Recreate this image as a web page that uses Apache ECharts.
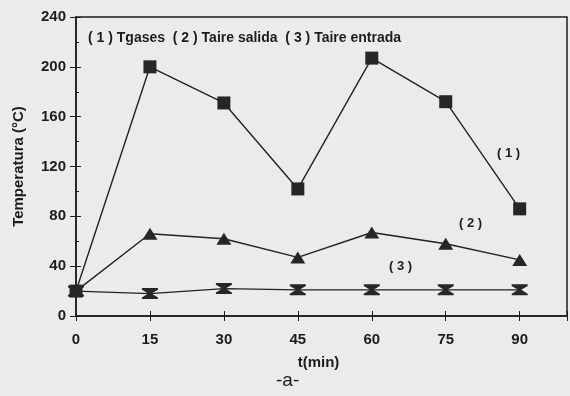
<!DOCTYPE html>
<html><head><meta charset="utf-8">
<script src="https://cdn.jsdelivr.net/npm/echarts@6/dist/echarts.min.js"></script>
<style>html,body{margin:0;padding:0;background:#ebebe9;}#c{width:570px;height:396px;}</style>
</head><body><div id="c"></div>
<script>
var times = [0, 15, 30, 45, 60, 75, 90];
var tGases = [20, 200, 171, 102, 207, 172, 86];
var tAireSalida = [20, 66, 62, 47, 67, 58, 45];
var tAireEntrada = [20, 18, 22, 21, 21, 21, 21];
var seriesNames = ['Tgases', 'Taire salida', 'Taire entrada'];
var yTicks = [0, 40, 80, 120, 160, 200, 240];
var xTitle = 't(min)';
var yTitle = 'Temperatura (°C)';
var caption = '-a-';

function pairs(v){ return times.map(function(t,i){return [t, v[i]];}); }
var ink = '#1c1c1c';
var font = 'Liberation Sans';
var hourglass = 'path://M0,0 L10,0 L10,1.5 L6,5 L10,8.5 L10,10 L0,10 L0,8.5 L4,5 L0,1.5 Z';
var xBase = {type: 'value', min: 0, max: 99.6, interval: 15, splitLine: {show: false}};
var yBase = {type: 'value', min: yTicks[0], max: yTicks[yTicks.length-1], interval: 40, splitLine: {show: false}};

var chart = echarts.init(document.getElementById('c'), null, {renderer:'canvas'});
var legendText = seriesNames.map(function(n,i){return '( '+(i+1)+' ) '+n;}).join('  ');
chart.setOption({
  backgroundColor: '#ebebe9',
  animation: false,
  grid: {left: 76, right: 3, top: 17, bottom: 80, show: true, borderColor: ink, borderWidth: 1.5},
  xAxis: [Object.assign({}, xBase, {
    name: xTitle, nameLocation: 'middle', nameGap: 39,
    nameTextStyle: {color: ink, fontFamily: font, fontWeight: 'bold', fontSize: 15, padding:[0,6,0,0]},
    axisLine: {lineStyle: {color: ink, width: 1.5}},
    axisTick: {show: true, inside: false, length: 5, lineStyle: {color: ink}},
    axisLabel: {color: ink, fontFamily: font, fontWeight: 'bold', fontSize: 15, margin: 16,
      formatter: function(v){ return times.indexOf(v) >= 0 ? String(v) : ''; }}
  }), Object.assign({}, xBase, {
    position: 'bottom',
    axisLine: {show: false},
    axisTick: {show: true, inside: true, length: 5, lineStyle: {color: ink}},
    axisLabel: {show: false}
  })],
  yAxis: [Object.assign({}, yBase, {
    name: yTitle, nameLocation: 'middle', nameGap: 50, nameRotate: 90,
    nameTextStyle: {color: ink, fontFamily: font, fontWeight: 'bold', fontSize: 15},
    axisLine: {show: true, lineStyle: {color: ink, width: 1.5}},
    axisTick: {show: true, inside: false, length: 6, lineStyle: {color: ink}},
    axisLabel: {color: ink, fontFamily: font, fontWeight: 'bold', fontSize: 15, margin: 10}
  }), Object.assign({}, yBase, {
    position: 'left',
    axisLine: {show: false},
    axisTick: {show: true, inside: true, length: 5, lineStyle: {color: ink}},
    minorTick: {show: true, splitNumber: 2, length: 3, lineStyle: {color: ink}},
    axisLabel: {show: false}
  })],
  series: [
    {name: seriesNames[0], type: 'line', data: pairs(tGases), symbol: 'rect', symbolSize: 13,
      itemStyle: {color: '#262626'}, lineStyle: {color: '#222', width: 1.4}, z: 3},
    {name: seriesNames[1], type: 'line', data: pairs(tAireSalida), symbol: 'triangle', symbolSize: [15, 12],
      itemStyle: {color: '#262626'}, lineStyle: {color: '#222', width: 1.4}, z: 2},
    {name: seriesNames[2], type: 'line', data: pairs(tAireEntrada), symbol: hourglass, symbolSize: [16, 11],
      itemStyle: {color: '#262626'}, lineStyle: {color: '#222', width: 1.4}, z: 1}
  ],
  graphic: [
    {type: 'text', left: 88, top: 31, style: {text: legendText, fill: ink, font: 'bold 14px "Liberation Sans"'}},
    {type: 'text', left: 497, top: 147, style: {text: '( 1 )', fill: ink, font: 'bold 13px "Liberation Sans"'}},
    {type: 'text', left: 459, top: 217, style: {text: '( 2 )', fill: ink, font: 'bold 13px "Liberation Sans"'}},
    {type: 'text', left: 389, top: 260, style: {text: '( 3 )', fill: ink, font: 'bold 13px "Liberation Sans"'}},
    {type: 'text', left: 276, top: 371, style: {text: caption, fill: ink, font: '19px "Liberation Sans"'}}
  ]
});
</script></body></html>
